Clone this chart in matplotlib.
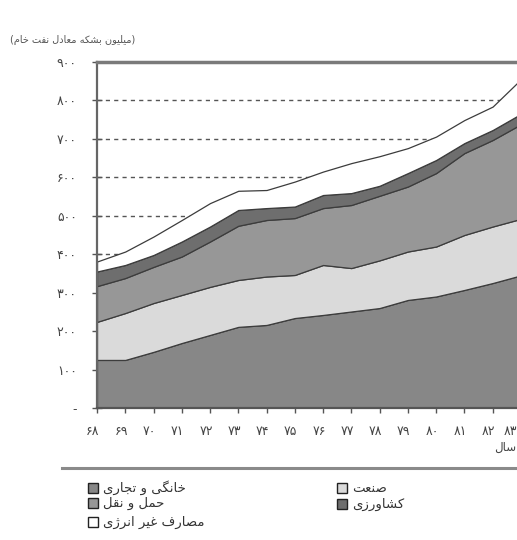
import unicodedata
import matplotlib
matplotlib.use('Agg')
import matplotlib.pyplot as plt
import matplotlib.transforms as mtransforms
from matplotlib.patches import Rectangle
from matplotlib.lines import Line2D

# years 1368..1383 (solar hijri) (cumulative stack read, then split)
years = list(range(68, 84))
year_labels = ['۶۸', '۶۹', '۷۰', '۷۱', '۷۲', '۷۳', '۷۴', '۷۵', '۷۶', '۷۷', '۷۸', '۷۹', '۸۰', '۸۱', '۸۲', '۸۳']
household = [125, 125, 146, 169, 190, 211, 216, 234, 242, 251, 260, 281, 290, 307, 325, 345]
industry = [99, 122, 127, 125, 125, 122, 126, 112, 130, 113, 124, 126, 130, 143, 147, 147]
transport = [93, 91, 94, 100, 118, 141, 147, 148, 148, 164, 168, 169, 191, 213, 225, 246]
agriculture = [38, 34, 31, 39, 39, 41, 31, 30, 34, 31, 26, 35, 34, 26, 26, 27]
non_energy = [26, 35, 48, 56, 61, 50, 47, 65, 61, 78, 77, 65, 61, 60, 61, 90]

y_ticks = [0, 100, 200, 300, 400, 500, 600, 700, 800, 900]
y_labels = ['-', '۱۰۰', '۲۰۰', '۳۰۰', '۴۰۰', '۵۰۰', '۶۰۰', '۷۰۰', '۸۰۰', '۹۰۰']

names = ['خانگی و تجاری', 'صنعت', 'حمل و نقل', 'کشاورزی', 'مصارف غیر انرژی']
colors = ['#878787', '#dadada', '#979797', '#6e6e6e', '#ffffff']
unit_text = '(میلیون بشکه معادل نفت خام)'


def shape(s):
    # crude arabic-script shaping + right-to-left reordering for matplotlib
    def form(c, f):
        n = unicodedata.name(c, '')
        if not n.startswith('ARABIC LETTER'):
            return None
        try:
            return unicodedata.lookup(n + ' ' + f + ' FORM')
        except KeyError:
            return None
    out = []
    for i, c in enumerate(s):
        p = s[i - 1] if i > 0 else ' '
        nx = s[i + 1] if i + 1 < len(s) else ' '
        jp = form(p, 'INITIAL') is not None and form(c, 'FINAL') is not None
        jn = form(c, 'INITIAL') is not None and form(nx, 'FINAL') is not None
        if jp and jn:
            g = form(c, 'MEDIAL') or form(c, 'FINAL')
        elif jp:
            g = form(c, 'FINAL')
        elif jn:
            g = form(c, 'INITIAL')
        else:
            g = form(c, 'ISOLATED')
        out.append(g or c)
    mirror = {'(': ')', ')': '('}
    return ''.join(mirror.get(ch, ch) for ch in reversed(out))


plt.rcParams['font.family'] = ['DejaVu Sans']
W, H = 517, 540
fig = plt.figure(figsize=(W / 100, H / 100), dpi=100)

# axes run past the right edge: the source image is cropped there
ax = fig.add_axes([97 / W, 1 - 408 / H, (535 - 97) / W, (408 - 62) / H])
ax.set_xlim(68, 83.5)
ax.set_ylim(0, 900)

for v in y_ticks[1:-1]:
    ax.axhline(v, color='#555555', lw=1, ls=(0, (3, 3)), zorder=0)

ax.stackplot(years, household, industry, transport, agriculture, non_energy,
             colors=colors, edgecolor='#3c3c3c', linewidth=0.9, zorder=2)

ax.spines['right'].set_visible(False)
ax.spines['top'].set_color('#7a7a7a')
ax.spines['top'].set_linewidth(2.5)
ax.spines['left'].set_color('#666666')
ax.spines['left'].set_linewidth(1.6)
ax.spines['bottom'].set_color('#555555')
ax.spines['bottom'].set_linewidth(1.6)

ax.set_yticks(y_ticks)
ax.set_yticklabels(y_labels)
ax.set_xticks(years)
ax.set_xticklabels(year_labels)
ax.tick_params(direction='inout', length=7, width=1, color='#555555',
               labelsize=9, labelcolor='#444444')
ax.tick_params(axis='y', pad=11)
ax.tick_params(axis='x', pad=9)

# year labels sit a little left of their ticks in the source
shift = mtransforms.ScaledTranslation(-4 / 100, 0, fig.dpi_scale_trans)
xlabs = ax.get_xticklabels()
for lab in xlabs:
    lab.set_transform(lab.get_transform() + shift)
# the last one is at the cropped right edge; keep it inside the picture
xlabs[-1].set_horizontalalignment('right')

fig.text(10 / W, 1 - 40 / H, shape(unit_text), fontsize=7, color='#555555',
         ha='left', va='center')
fig.text(516 / W, 1 - 447 / H, shape('سال'), fontsize=8.5, color='#444444',
         ha='right', va='center')

# legend frame line
fig.add_artist(Line2D([62 / W, 1], [1 - 468 / H, 1 - 468 / H], color='#8a8a8a', lw=2.2,
                      transform=fig.transFigure))

entries = [(0, 88, 488), (2, 88, 503), (4, 88, 522), (1, 337, 488), (3, 337, 504)]
for idx, x0, yc in entries:
    fig.add_artist(Rectangle((x0 / W, 1 - (yc + 5) / H), 10 / W, 10 / H,
                             facecolor=colors[idx], edgecolor='#222222', lw=1,
                             transform=fig.transFigure))
    fig.text((x0 + 15) / W, 1 - yc / H, shape(names[idx]), fontsize=9.5,
             color='#333333', ha='left', va='center')

plt.savefig('out.png', dpi=100)
